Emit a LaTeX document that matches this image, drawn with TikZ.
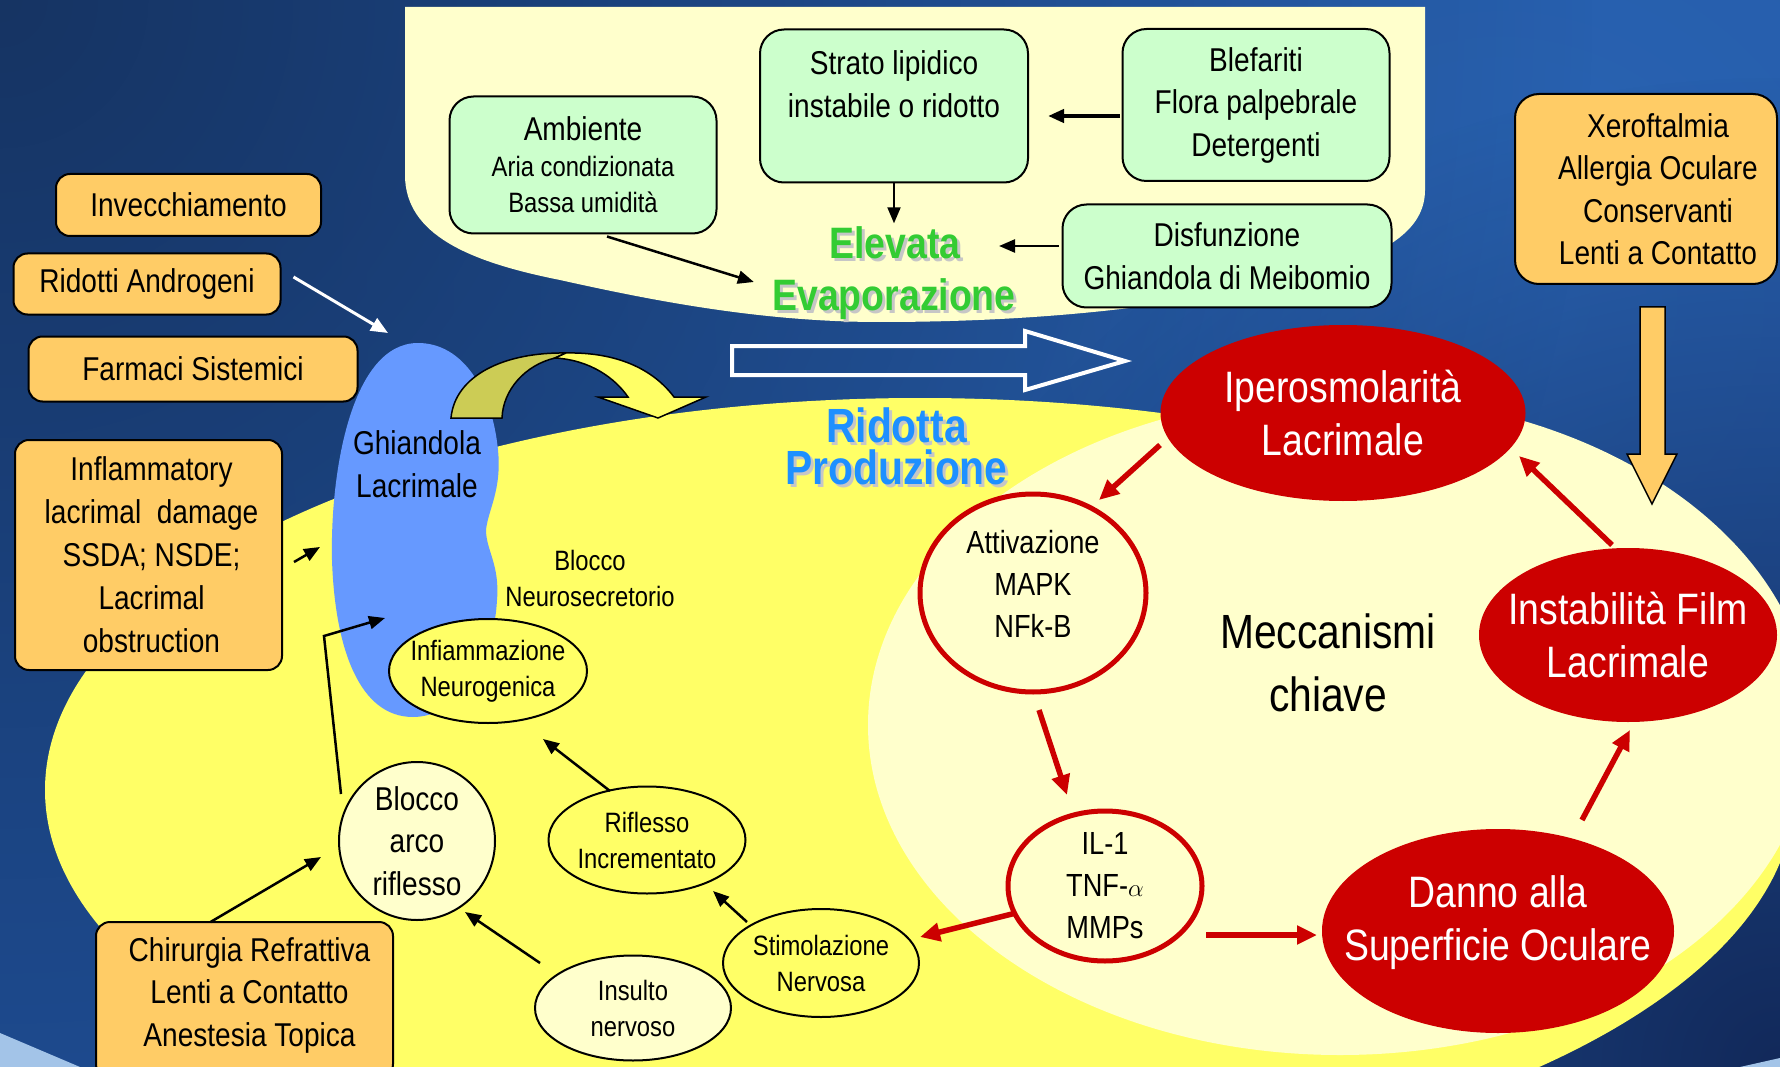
\documentclass[tikz,border=0pt]{standalone}
\usepackage{fontspec}
\setmainfont{Liberation Sans}[FakeStretch=0.85]
\usetikzlibrary{shapes.geometric,arrows.meta,calc,fadings}
\definecolor{bgA}{HTML}{163463}
\definecolor{bgB}{HTML}{2155A3}
\definecolor{bgL}{HTML}{2A64B3}
\definecolor{bgC}{HTML}{12295A}
\definecolor{ltblue}{HTML}{A3C4E8}
\definecolor{orangebox}{HTML}{FFCC66}
\definecolor{greenbox}{HTML}{CCFFCC}
\definecolor{ltyel}{HTML}{FFFFCC}
\definecolor{yel}{HTML}{FFFF66}
\definecolor{redfill}{HTML}{CC0000}
\definecolor{glandblue}{HTML}{6699FF}
\definecolor{olive}{HTML}{CCCC55}
\definecolor{evgreen}{HTML}{33CC33}
\definecolor{ridblue}{HTML}{1E90FF}
\tikzfading[name=radfade, inner color=transparent!0, outer color=transparent!100]
\tikzset{
 fbig/.style={font=\fontsize{33}{42.5}\selectfont},
 fmid/.style={font=\fontsize{28}{36}\selectfont},
 obox/.style={draw=black, line width=2pt, fill=orangebox, rounded corners=14pt, align=center, inner sep=0pt, fbig},
 gbox/.style={draw=black, line width=2pt, fill=greenbox, rounded corners=24pt, align=center, inner sep=0pt, fbig},
 yell/.style={ellipse, draw=black, line width=2pt, fill=yel, inner sep=-120pt, align=center, fmid},
 lyell/.style={yell, fill=ltyel},
 rring/.style={ellipse, draw=redfill, line width=5pt, fill=ltyel, inner sep=-120pt, align=center, font=\fontsize{32}{42}\selectfont},
 rell/.style={ellipse, fill=redfill, text=white, inner sep=-120pt, align=center, font=\fontsize{44}{53}\selectfont},
 blk/.style={draw=black, line width=2.5pt, -{Triangle[length=16pt,width=13pt]}},
 whitearr/.style={draw=white, line width=3pt, -{Triangle[length=17pt,width=14pt]}},
 redarr/.style={draw=redfill, line width=5.5pt, -{Triangle[length=20pt,width=18pt]}},
 shadowtxt/.style={text=gray!45},
}
\begin{document}
\begin{tikzpicture}[x=1pt,y=-1pt]
\useasboundingbox (0,0) rectangle (1780,1067);
\begin{scope}
\clip (0,0) rectangle (1780,1067);
% background
\fill[bgB] (0,0) rectangle (1780,1067);
\fill[bgL, path fading=radfade] (1500,300) circle [radius=1300];
\fill[bgA, path fading=radfade] (0,0) circle [radius=1600];
\fill[bgC, path fading=radfade] (1780,1067) circle [radius=1000];
\fill[ltblue] (0,1033) -- (80,1067) -- (0,1067) -- cycle;
\fill[ltblue] (1740,1067) -- (1780,1058) -- (1780,1067) -- cycle;
% top light region
\fill[ltyel] (405,7) -- (405,175) .. controls (405,235) and (470,262) .. (560,280)
  .. controls (650,300) and (760,322) .. (880,322)
  .. controls (1050,322) and (1200,305) .. (1330,270)
  .. controls (1395,250) and (1425,225) .. (1425,190) -- (1425,7) -- cycle;
% yellow region
\fill[yel] (920,790) ellipse [x radius=875, y radius=392];
% mechanism region
\fill[ltyel] (1340,725) ellipse [x radius=472, y radius=330];
% gland
\fill[glandblue] (418,343) .. controls (463,343) and (492,390) .. (498,450)
  .. controls (502,490) and (488,510) .. (486,530)
  .. controls (486,550) and (500,565) .. (497,600)
  .. controls (494,660) and (460,717) .. (413,717)
  .. controls (360,717) and (335,650) .. (332,560)
  .. controls (330,470) and (352,343) .. (418,343) -- cycle;
% curved arrow
\draw[black, line width=1.5pt, fill=olive] (451,418) .. controls (455,375) and (505,352) .. (566,353)
  -- (555,358) .. controls (525,365) and (503,390) .. (502,418) -- cycle;
\draw[black, line width=1.5pt, fill=yel, line join=miter] (555,358) .. controls (590,360) and (615,378) .. (628,397)
  -- (598,397) -- (658,418) -- (706,397) -- (674,397)
  .. controls (650,365) and (610,352) .. (566,353) -- cycle;
% hollow arrow
\draw[white, line width=4pt, line join=miter] (732,346) -- (1025,346) -- (1025,331) -- (1125,361)
  -- (1025,390) -- (1025,375) -- (732,375) -- cycle;
% orange down arrow
\draw[black, line width=1.5pt, fill=orangebox, line join=miter] (1640,307) -- (1665,307) -- (1665,454) -- (1677,454)
  -- (1652,504) -- (1627,454) -- (1640,454) -- cycle;

% green boxes
\node[gbox, minimum width=267pt, minimum height=137pt, font=\fontsize{28}{36}\selectfont] (amb) at (583,165)
  {{\fontsize{33}{36}\selectfont Ambiente}\\Aria condizionata\\Bassa umidità};
\node[gbox, minimum width=268pt, minimum height=153pt, text depth=44pt] (strato) at (894,106)
  {Strato lipidico\\instabile o ridotto};
\node[gbox, minimum width=267pt, minimum height=152pt] (blef) at (1256,105)
  {Blefariti\\Flora palpebrale\\Detergenti};
\node[gbox, minimum width=329pt, minimum height=103pt] (disf) at (1227,256)
  {Disfunzione\\Ghiandola di Meibomio};

% orange boxes
\node[obox, minimum width=265pt, minimum height=62pt] (inv) at (188.5,205) {Invecchiamento};
\node[obox, minimum width=267pt, minimum height=61pt] (andr) at (147,284) {Ridotti Androgeni};
\node[obox, minimum width=329pt, minimum height=65pt] (farm) at (193,369) {Farmaci Sistemici};
\node[obox, minimum width=267pt, minimum height=230pt, font=\fontsize{33}{43}\selectfont] (infl) at (148.5,555)
  {\hspace*{6pt}Inflammatory\\\hspace*{6pt}lacrimal\ \ damage\\\hspace*{6pt}SSDA; NSDE;\\\hspace*{6pt}Lacrimal\\\hspace*{6pt}obstruction};
\node[obox, minimum width=297pt, minimum height=156pt, text depth=16pt] (chir) at (244.5,1000)
  {\hspace*{10pt}Chirurgia Refrattiva\\\hspace*{10pt}Lenti a Contatto\\\hspace*{10pt}Anestesia Topica};
\node[obox, minimum width=262pt, minimum height=190pt, rounded corners=24pt] (xero) at (1646,189)
  {\hspace*{24pt}Xeroftalmia\\\hspace*{24pt}Allergia Oculare\\\hspace*{24pt}Conservanti\\\hspace*{24pt}Lenti a Contatto};

% texts
\node[font=\bfseries\fontsize{44}{50}\selectfont, shadowtxt] (elevsh) at (898,246) {Elevata};
\node[font=\bfseries\fontsize{44}{50}\selectfont, shadowtxt] (evapsh) at (897,302) {Evaporazione};
\node[font=\bfseries\fontsize{44}{50}\selectfont, text=evgreen] (elev) at (895,243) {Elevata};
\node[font=\bfseries\fontsize{44}{50}\selectfont, text=evgreen] (evap) at (894,299) {Evaporazione};
\node[font=\bfseries\fontsize{48}{42}\selectfont, shadowtxt, align=center] (ridsh) at (899.5,449) {Ridotta\\Produzione};
\node[font=\bfseries\fontsize{48}{42}\selectfont, text=ridblue, align=center] (rid) at (896.5,446) {Ridotta\\Produzione};
\node[fbig, align=center] (glandtxt) at (417,464) {Ghiandola\\Lacrimale};
\node[fmid, align=center] (neuro) at (590,578) {Blocco\\Neurosecretorio};
\node[font=\fontsize{48}{63}\selectfont, align=center] (mecc) at (1328,663) {Meccanismi\\chiave};

% black ellipses
\node[yell, minimum width=198pt, minimum height=104pt] (infiam) at (488,671) {Infiammazione\\Neurogenica};
\node[lyell, minimum width=156pt, minimum height=158pt, fbig] (arco) at (417,841) {Blocco\\arco\\riflesso};
\node[yell, minimum width=197pt, minimum height=107pt] (rifl) at (647,840) {Riflesso\\Incrementato};
\node[yell, minimum width=196pt, minimum height=108pt] (stim) at (821,963) {Stimolazione\\Nervosa};
\node[lyell, minimum width=196pt, minimum height=105pt] (insul) at (633,1008) {Insulto\\nervoso};

% red nodes
\node[rell, minimum width=365pt, minimum height=176pt] (iper) at (1343,413) {Iperosmolarità\\Lacrimale};
\node[rring, minimum width=226pt, minimum height=198pt, text depth=18pt] (attiv) at (1033,593) {Attivazione\\MAPK\\NFk-B};
\node[rring, minimum width=194pt, minimum height=150pt] (il1) at (1105,886) {IL-1\\TNF-$\alpha$\\MMPs};
\node[rell, minimum width=352pt, minimum height=204pt, text depth=26pt] (danno) at (1498,931) {Danno alla\\Superficie Oculare};
\node[rell, minimum width=298pt, minimum height=174pt] (instab) at (1628,635) {Instabilità Film\\Lacrimale};

% black connectors
\draw[blk, line width=4pt] ($(blef.west)+(-2,11)$) -- ($(strato.east)+(19,10)$);
\draw[blk, line width=2pt] (strato.south) -- (strato.south |- elev.north);
\draw[blk] ($(disf.west)+(-3,-10)$) -- ($(elev.east)+(35,3)$);
\draw[blk] ($(amb.south)+(24,2)$) -- ($(evap.west)+(-15,-17)$);
\draw[whitearr] ($(andr.east)+(12,-7)$) -- ($(glandtxt)+(-29,-131)$);
\draw[blk] ($(infl.east)+(11,7)$) -- ($(glandtxt)+(-97,83)$);
\draw[blk] ($(arco)+(-76,-47)$) -- ($(glandtxt)+(-93,172)$) -- ($(glandtxt)+(-32,154)$);
\draw[blk] ($(chir.north)+(-34,1)$) -- ($(arco)+(-96,16)$);
\draw[blk] ($(rifl)+(-37,-49)$) -- ($(infiam)+(55,68)$);
\draw[blk] ($(stim)+(-74,-41)$) -- ($(rifl)+(66,51)$);
\draw[blk] ($(insul)+(-93,-45)$) -- ($(arco)+(48,71)$);

% red connectors
\draw[redarr] ($(iper)+(-183,32)$) -- ($(attiv)+(66,-93)$);
\draw[redarr] ($(attiv)+(6,117)$) -- ($(il1)+(-38,-91)$);
\draw[redarr] ($(il1)+(101,49)$) -- ($(danno)+(-181,4)$);
\draw[redarr] ($(danno)+(84,-111)$) -- ($(instab)+(2,95)$);
\draw[redarr] ($(instab)+(-16,-90)$) -- ($(iper)+(176,43)$);
\draw[redarr] ($(il1)+(-89,27)$) -- ($(stim)+(99,-26)$);
\end{scope}
\end{tikzpicture}
\end{document}
